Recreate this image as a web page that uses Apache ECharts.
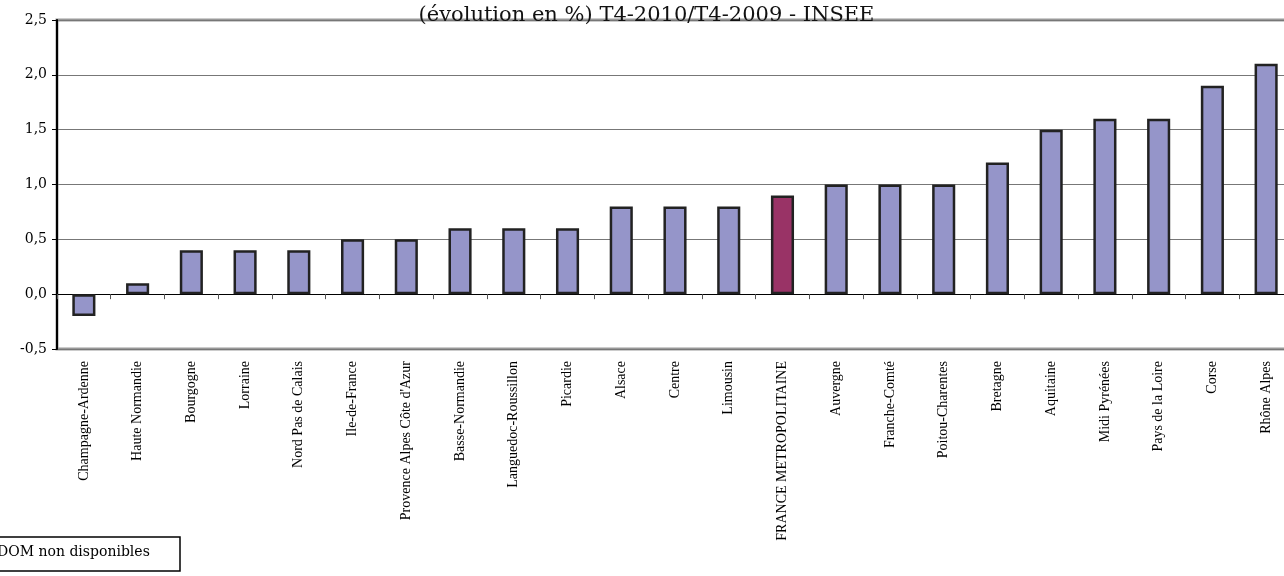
<!DOCTYPE html>
<html>
<head>
<meta charset="utf-8">
<script src="https://cdn.jsdelivr.net/npm/echarts@6/dist/echarts.min.js"></script>
<style>html,body{margin:0;padding:0;background:#fff;overflow:hidden;width:1284px;height:576px;}#c{width:1293px;height:576px;}</style>
</head>
<body>
<div id="c"></div>
<script>
const categories = ["Champagne-Ardenne","Haute Normandie","Bourgogne","Lorraine","Nord Pas de Calais","Ile-de-France","Provence Alpes Côte d'Azur","Basse-Normandie","Languedoc-Roussillon","Picardie","Alsace","Centre","Limousin","FRANCE METROPOLITAINE","Auvergne","Franche-Comté","Poitou-Charentes","Bretagne","Aquitaine","Midi Pyrénées","Pays de la Loire","Corse","Rhône Alpes"];
const values = [-0.2,0.1,0.4,0.4,0.4,0.5,0.5,0.6,0.6,0.6,0.8,0.8,0.8,0.9,1.0,1.0,1.0,1.2,1.5,1.6,1.6,1.9,2.1];
const highlight = "FRANCE METROPOLITAINE";
const subtitle = "(évolution en %) T4-2010/T4-2009 - INSEE";
const note = "DOM non disponibles";

const SERIF = "'Liberation Serif', serif";
const WIDE = "'DejaVu Serif', serif";
const chart = echarts.init(document.getElementById('c'), null, {renderer: 'canvas'});
chart.setOption({
  animation: false,
  backgroundColor: '#fff',
  grid: {left: 57, right: 0, top: 20, bottom: 227, show: true, borderColor: '#999', borderWidth: 3, backgroundColor: 'transparent'},
  xAxis: [{
    type: 'category', data: categories, position: 'bottom',
    axisLine: {show: false, onZero: false},
    axisTick: {show: false},
    axisLabel: {rotate: 90, interval: 0, margin: 12, fontFamily: SERIF, fontSize: 14, color: '#000'}
  }, {
    type: 'category', data: categories, position: 'bottom',
    axisLine: {show: true, onZero: true, lineStyle: {color: '#000', width: 1}},
    axisTick: {show: true, interval: 0, inside: false, length: 5, lineStyle: {color: '#555'}},
    axisLabel: {show: false}
  }],
  yAxis: {
    type: 'value', min: -0.5, max: 2.5, interval: 0.5,
    axisLine: {show: true, lineStyle: {color: '#000', width: 2}},
    axisTick: {show: true, length: 5, lineStyle: {color: '#000'}},
    splitLine: {show: true, lineStyle: {color: '#777', width: 1}},
    axisLabel: {fontFamily: WIDE, fontSize: 14, color: '#000', margin: 10,
      formatter: v => v.toFixed(1).replace('.', ',')}
  },
  series: [{
    type: 'bar', xAxisIndex: 0, barWidth: '43%',
    data: values.map((v, i) => ({
      value: v,
      itemStyle: {color: categories[i] === highlight ? '#993366' : '#9595C9', borderColor: '#222', borderWidth: 2.5}
    }))
  }],
  graphic: [
    {type: 'text', left: 'center', top: 5, style: {text: subtitle, fontFamily: WIDE, fontSize: 21, fill: '#111'}, z: 10},
    {type: 'rect', shape: {x: -5, y: 537, width: 185, height: 34}, style: {fill: '#fff', stroke: '#000', lineWidth: 1.5}},
    {type: 'text', x: -3, y: 545, style: {text: note, fontFamily: WIDE, fontSize: 14, fill: '#000'}}
  ]
});
</script>
</body>
</html>
